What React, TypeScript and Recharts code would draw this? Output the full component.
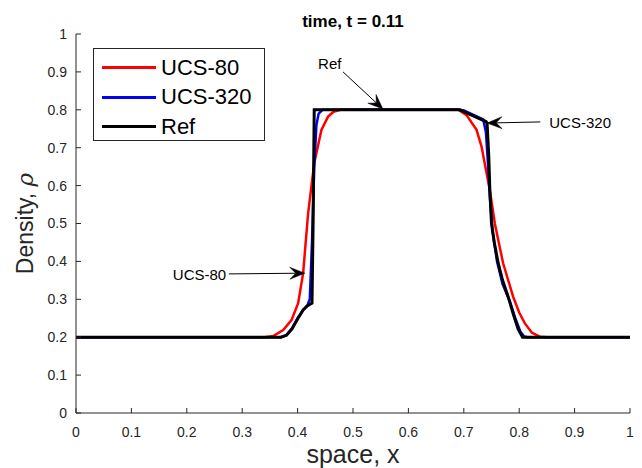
import React from "react";
import {
  LineChart,
  Line,
  XAxis,
  YAxis,
  Legend,
  ReferenceLine,
  ReferenceDot,
} from "recharts";

// axis ticks
const xTicks = [0, 0.1, 0.2, 0.3, 0.4, 0.5, 0.6, 0.7, 0.8, 0.9, 1];
const yTicks = [0, 0.1, 0.2, 0.3, 0.4, 0.5, 0.6, 0.7, 0.8, 0.9, 1];

// UCS-80 (red)
const ucs80X = [0, 0.34, 0.356, 0.374, 0.389, 0.401, 0.41, 0.419, 0.43, 0.443, 0.455, 0.465, 0.477, 0.69, 0.705, 0.723, 0.732, 0.747, 0.756, 0.771, 0.789, 0.8, 0.81, 0.823, 0.838, 0.85, 1];
const ucs80Y = [0.2, 0.2, 0.203, 0.219, 0.245, 0.29, 0.369, 0.527, 0.659, 0.747, 0.782, 0.795, 0.8, 0.8, 0.786, 0.747, 0.703, 0.588, 0.5, 0.395, 0.307, 0.265, 0.237, 0.212, 0.201, 0.2, 0.2];

// UCS-320 (blue)
const ucs320X = [0, 0.37, 0.38, 0.39, 0.4, 0.41, 0.418, 0.422, 0.426, 0.43, 0.434, 0.438, 0.445, 0.69, 0.7, 0.735, 0.74, 0.744, 0.747, 0.752, 0.76, 0.77, 0.783, 0.793, 0.802, 0.809, 0.815, 1];
const ucs320Y = [0.2, 0.2, 0.206, 0.224, 0.25, 0.272, 0.285, 0.3, 0.45, 0.65, 0.76, 0.79, 0.8, 0.8, 0.798, 0.775, 0.74, 0.65, 0.57, 0.48, 0.4, 0.34, 0.295, 0.25, 0.215, 0.202, 0.2, 0.2];

// Ref (black)
const refX = [0, 0.37, 0.38, 0.39, 0.4, 0.41, 0.418, 0.426, 0.428, 0.43, 0.693, 0.74, 0.742, 0.745, 0.747, 0.75, 0.755, 0.762, 0.77, 0.78, 0.79, 0.798, 0.806, 1];
const refY = [0.2, 0.2, 0.205, 0.222, 0.248, 0.272, 0.283, 0.29, 0.5, 0.8, 0.8, 0.769, 0.765, 0.68, 0.588, 0.5, 0.45, 0.396, 0.35, 0.307, 0.258, 0.222, 0.2, 0.2];

const seriesOrder = ["UCS-80", "UCS-320", "Ref"];

// annotations
const noteText = ["Ref", "UCS-320", "UCS-80"];
const noteX = [0.458, 0.91, 0.223];
const noteY = [0.923, 0.765, 0.364];
const arrowFromX = [0.482, 0.838, 0.276];
const arrowFromY = [0.9, 0.768, 0.367];
const arrowToX = [0.554, 0.742, 0.413];
const arrowToY = [0.802, 0.765, 0.369];

const toPoints = (xs: number[], ys: number[]) => xs.map((x, i) => ({ x, y: ys[i] }));

const ucs80 = toPoints(ucs80X, ucs80Y);
const ucs320 = toPoints(ucs320X, ucs320Y);
const ref = toPoints(refX, refY);

const FONT = "'Liberation Sans', Arial, Helvetica, sans-serif";
const AXIS = "#262626";

const arrowShape = (props: any) => {
  const { x1, y1, x2, y2 } = props;
  const dx = x2 - x1;
  const dy = y2 - y1;
  const len = Math.hypot(dx, dy) || 1;
  const ux = dx / len;
  const uy = dy / len;
  const nx = -uy;
  const ny = ux;
  const L = 15;
  const W = 6;
  const bx = x2 - ux * L;
  const by = y2 - uy * L;
  const mx = x2 - ux * L * 0.6;
  const my = y2 - uy * L * 0.6;
  const head = `M${x2},${y2} L${bx + nx * W},${by + ny * W} L${mx},${my} L${bx - nx * W},${by - ny * W} Z`;
  return (
    <g>
      <line x1={x1} y1={y1} x2={mx} y2={my} stroke="#000" strokeWidth={1} />
      <path d={head} fill="#000" stroke="#000" strokeWidth={0.5} />
    </g>
  );
};

const LegendBox = (props: any) => {
  const items = [...(props.payload || [])].sort(
    (a: any, b: any) => seriesOrder.indexOf(a.value) - seriesOrder.indexOf(b.value)
  );
  return (
    <div
      style={{
        boxSizing: "border-box",
        width: 172,
        height: 93,
        border: `1px solid ${AXIS}`,
        background: "#fff",
        padding: "4px 0 0 8px",
        fontFamily: FONT,
      }}
    >
      {items.map((it: any) => (
        <div key={it.value} style={{ display: "flex", alignItems: "center", height: 29.5 }}>
          <span style={{ display: "inline-block", width: 54, height: 3, background: it.color }} />
          <span style={{ marginLeft: 5, fontSize: 22, color: "#000", lineHeight: "22px" }}>{it.value}</span>
        </div>
      ))}
    </div>
  );
};

export default function App() {
  return (
    <div style={{ position: "absolute", left: 0, top: 0, width: 642, height: 468, background: "#fff" }}>
      <div
        style={{
          position: "absolute",
          left: 76,
          top: 13,
          width: 554,
          textAlign: "center",
          fontFamily: FONT,
          fontSize: 17,
          lineHeight: "17px",
          fontWeight: "bold",
          color: "#000",
          zIndex: 2,
        }}
      >
        time, t = 0.11
      </div>
      <LineChart width={642} height={468} margin={{ top: 34, right: 12, bottom: 0, left: 0 }}>
        <XAxis
          xAxisId="b"
          type="number"
          dataKey="x"
          domain={[0, 1]}
          ticks={xTicks}
          orientation="bottom"
          height={55}
          tickSize={-5}
          tickMargin={19}
          stroke={AXIS}
          tick={{ fontSize: 14, fill: AXIS, fontFamily: FONT }}
          label={{
            content: (p: any) => {
              const vb = p.viewBox || { x: 76, y: 413, width: 554, height: 55 };
              return (
                <text x={vb.x + vb.width / 2} y={463} textAnchor="middle" fontSize={25} fill={AXIS} fontFamily={FONT}>
                  space, x
                </text>
              );
            },
          }}
        />
        <XAxis
          xAxisId="t"
          type="number"
          dataKey="x"
          domain={[0, 1]}
          ticks={xTicks}
          orientation="top"
          height={0}
          tickSize={-5}
          tickFormatter={() => ""}
          stroke={AXIS}
        />
        <YAxis
          yAxisId="l"
          type="number"
          domain={[0, 1]}
          ticks={yTicks}
          width={76}
          tickSize={-5}
          tickMargin={14}
          stroke={AXIS}
          tick={{ fontSize: 14, fill: AXIS, fontFamily: FONT }}
          label={{
            content: (p: any) => {
              const vb = p.viewBox || { x: 0, y: 34, width: 76, height: 379 };
              const cy = vb.y + vb.height / 2;
              return (
                <text x={33} y={cy} transform={`rotate(-90, 33, ${cy})`} textAnchor="middle" fontSize={23} fill={AXIS} fontFamily={FONT}>
                  Density, <tspan fontStyle="italic" fontFamily="'DejaVu Serif', serif">ρ</tspan>
                </text>
              );
            },
          }}
        />
        <YAxis
          yAxisId="r"
          type="number"
          domain={[0, 1]}
          ticks={yTicks}
          orientation="right"
          width={0}
          tickSize={-5}
          tickFormatter={() => ""}
          stroke={AXIS}
        />
        <Legend layout="vertical" align="center" verticalAlign="middle" content={<LegendBox />} wrapperStyle={{ left: 93, top: 48, width: 172, height: 93 }} />
        <Line xAxisId="b" yAxisId="l" data={ucs80} dataKey="y" name="UCS-80" type="linear" stroke="#ff0000" strokeWidth={2.5} dot={false} isAnimationActive={false} />
        <Line xAxisId="b" yAxisId="l" data={ucs320} dataKey="y" name="UCS-320" type="linear" stroke="#0000ff" strokeWidth={2.5} dot={false} isAnimationActive={false} />
        <Line xAxisId="b" yAxisId="l" data={ref} dataKey="y" name="Ref" type="linear" stroke="#000000" strokeWidth={3} dot={false} isAnimationActive={false} />
        {noteText.map((t, i) => (
          <ReferenceLine
            key={`a-${t}`}
            xAxisId="b"
            yAxisId="l"
            segment={[
              { x: arrowFromX[i], y: arrowFromY[i] },
              { x: arrowToX[i], y: arrowToY[i] },
            ]}
            shape={arrowShape}
          />
        ))}
        {noteText.map((t, i) => (
          <ReferenceDot
            key={`n-${t}`}
            xAxisId="b"
            yAxisId="l"
            x={noteX[i]}
            y={noteY[i]}
            r={0}
            fill="none"
            stroke="none"
            label={{ value: t, position: "center", fontSize: 15, fill: "#000", fontFamily: FONT }}
          />
        ))}
      </LineChart>
    </div>
  );
}
